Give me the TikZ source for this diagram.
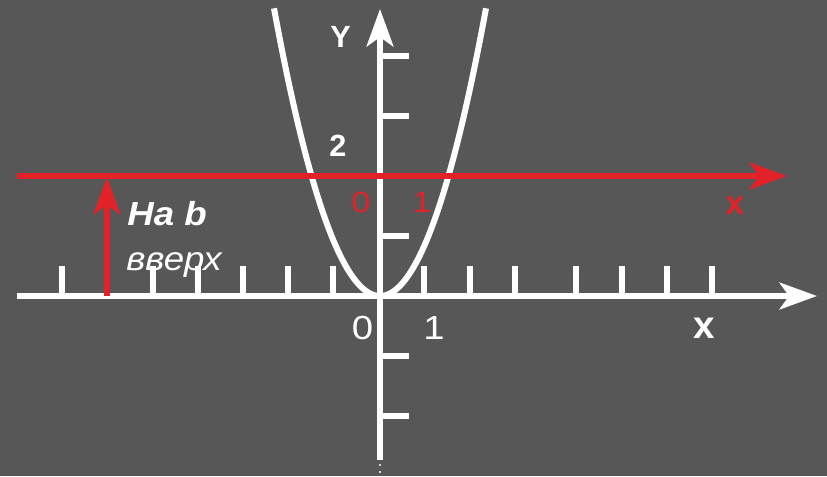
\documentclass[tikz,border=0pt]{standalone}
\usepackage{fontspec}
\setmainfont{Liberation Sans}
\usetikzlibrary{arrows.meta}
\definecolor{bg}{RGB}{87,87,87}
\definecolor{rd}{RGB}{226,34,40}
\begin{document}
\begin{tikzpicture}[x={(0.75pt,0)},y={(0,-0.75pt)},
  axisline/.style={line width=4.5pt, white},
  tickline/.style={line width=4.5pt, white},
  redline/.style={line width=4.5pt, rd},
  bigtip/.style={-{Stealth[length=28pt,width=20pt,inset=7pt]}},
  lbl/.style={inner sep=0pt, text=white},
  rlbl/.style={inner sep=0pt, text=rd},
  wide/.style={xscale=1.15}]
\fill[bg] (0,0) rectangle (827,476);
\useasboundingbox (0,0) rectangle (827,476);
% coordinates
\coordinate (xs) at (17,296);
\coordinate (xe) at (817,296);
\coordinate (ys) at (380,460);
\coordinate (ye) at (380,9);
\coordinate (rs) at (17,176);
\coordinate (re) at (787,176);
\coordinate (as) at (107,296);
\coordinate (ae) at (107,177);
% x ticks
\foreach \t in {62,107,153,198,243,288,333,424,470,515,576,622,667,712}
  \draw[tickline] (\t,296) -- (\t,266);
% y ticks
\foreach \t in {56,116,176,236,356,416}
  \draw[tickline] (380,\t) -- (409,\t);
% axes
\draw[axisline,bigtip] (xs) -- (xe);
\draw[axisline,bigtip] (ys) -- (ye);
\fill[white] (380,465) circle (1.2);
\fill[white] (380,472) circle (1.2);
% parabola
\draw[line width=4.5pt, white] plot[domain=-106:106, samples=120, smooth] ({380+\x},{296-0.0256*\x*\x});
% red line and arrow
\draw[redline,bigtip] (rs) -- (re);
\draw[redline,bigtip] (as) -- (ae);
% labels
\node[lbl, font=\bfseries\fontsize{23pt}{27pt}\selectfont] (Y) at (340.5,37) {Y};
\node[lbl, font=\bfseries\fontsize{23pt}{27pt}\selectfont] (two) at (338,146) {2};
\node[rlbl, wide, font=\fontsize{22pt}{26pt}\selectfont] (r0) at (361,202.5) {0};
\node[rlbl, wide, font=\fontsize{22pt}{26pt}\selectfont] (r1) at (422,202.5) {1};
\node[rlbl, font=\bfseries\fontsize{25pt}{30pt}\selectfont] (rx) at (735,205.5) {x};
\node[lbl, wide, font=\fontsize{25pt}{30pt}\selectfont] (w0) at (362.5,328) {0};
\node[lbl, wide, font=\fontsize{25pt}{30pt}\selectfont] (w1) at (434,328) {1};
\node[lbl, font=\bfseries\fontsize{29pt}{34pt}\selectfont] (wx) at (704.5,328.5) {x};
\node[lbl, anchor=base west, xscale=1.1, font=\bfseries\itshape\fontsize{25pt}{30pt}\selectfont] (nab) at (127,225) {На b};
\node[lbl, anchor=base west, xscale=1.1, font=\itshape\fontsize{25pt}{30pt}\selectfont] (up) at (126,270) {вверх};
\end{tikzpicture}
\end{document}
